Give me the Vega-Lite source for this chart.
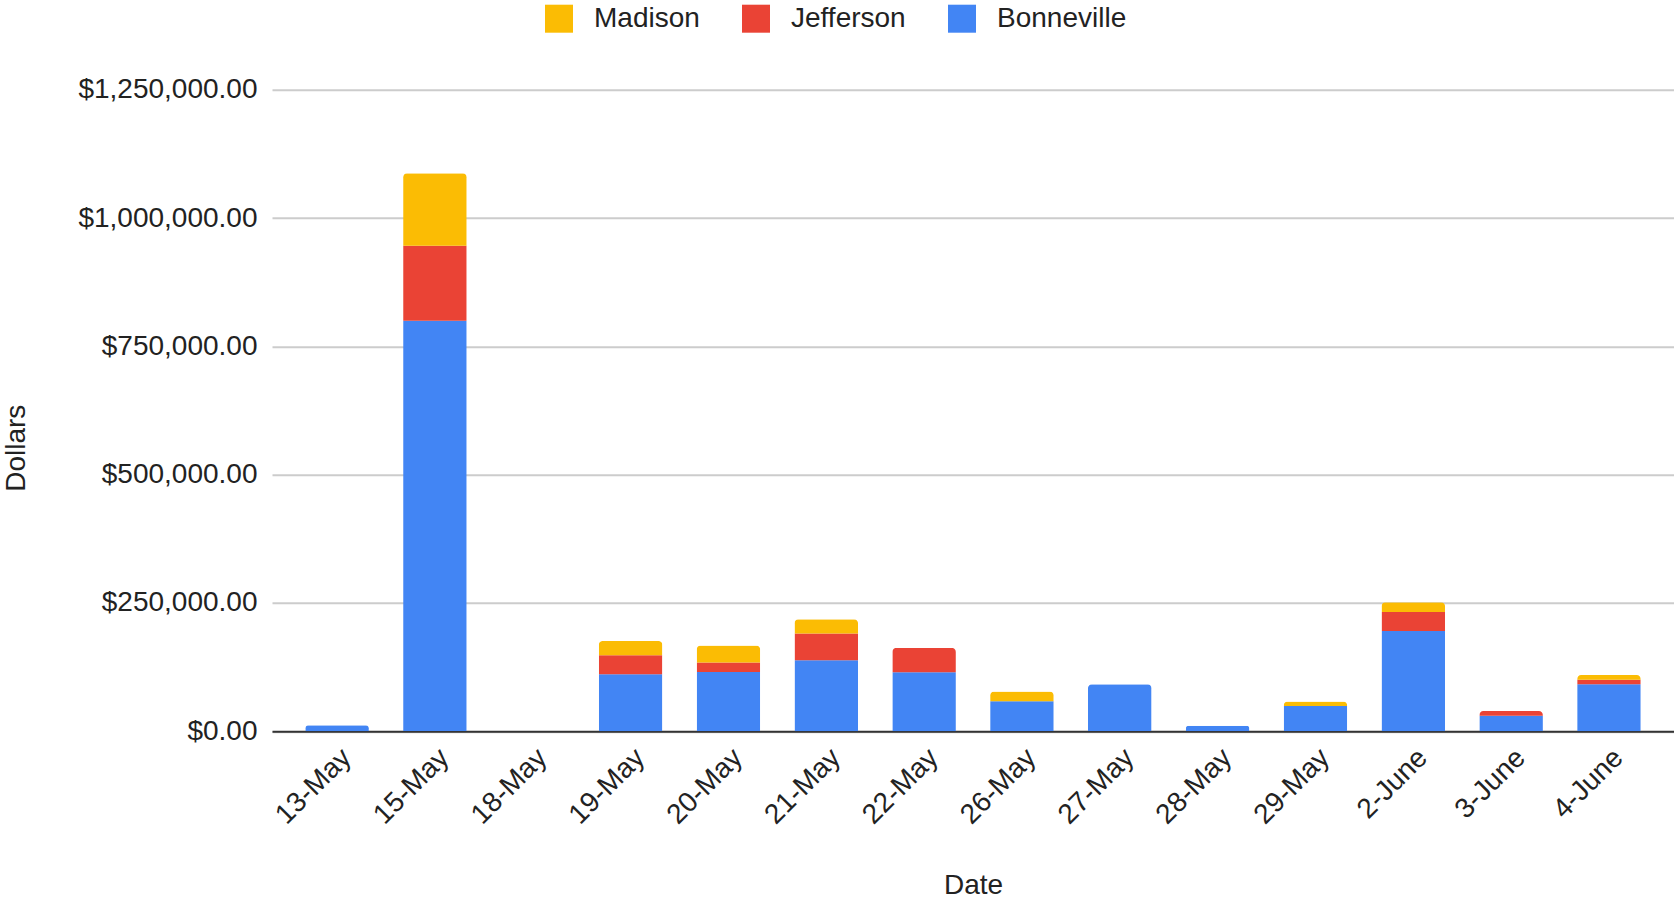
{
  "$schema": "https://vega.github.io/schema/vega-lite/v6.json",
  "autosize": "none",
  "width": 1402,
  "height": 641.6,
  "padding": {"left": 272, "top": 89.7, "right": 0, "bottom": 168.7},
  "background": "white",
  "config": {
    "font": "Liberation Sans",
    "view": {"stroke": null},
    "axis": {"labelColor": "#222222", "titleColor": "#222222", "titleFontWeight": "normal", "labelFontSize": 28, "titleFontSize": 28, "labelFont": "Liberation Sans", "titleFont": "Liberation Sans"}
  },
  "data": {
    "values": [
      {"date": "13-May", "county": "Bonneville", "dollars": 12000},
      {"date": "15-May", "county": "Bonneville", "dollars": 800000},
      {"date": "15-May", "county": "Jefferson", "dollars": 146000},
      {"date": "15-May", "county": "Madison", "dollars": 141000},
      {"date": "18-May", "county": "Bonneville", "dollars": 0},
      {"date": "19-May", "county": "Bonneville", "dollars": 111000},
      {"date": "19-May", "county": "Jefferson", "dollars": 37000},
      {"date": "19-May", "county": "Madison", "dollars": 28000},
      {"date": "20-May", "county": "Bonneville", "dollars": 115500},
      {"date": "20-May", "county": "Jefferson", "dollars": 18500},
      {"date": "20-May", "county": "Madison", "dollars": 33000},
      {"date": "21-May", "county": "Bonneville", "dollars": 138500},
      {"date": "21-May", "county": "Jefferson", "dollars": 52000},
      {"date": "21-May", "county": "Madison", "dollars": 28000},
      {"date": "22-May", "county": "Bonneville", "dollars": 115000},
      {"date": "22-May", "county": "Jefferson", "dollars": 47500},
      {"date": "26-May", "county": "Bonneville", "dollars": 58500},
      {"date": "26-May", "county": "Madison", "dollars": 19000},
      {"date": "27-May", "county": "Bonneville", "dollars": 91500},
      {"date": "28-May", "county": "Bonneville", "dollars": 11000},
      {"date": "29-May", "county": "Bonneville", "dollars": 49500},
      {"date": "29-May", "county": "Madison", "dollars": 8500},
      {"date": "2-June", "county": "Bonneville", "dollars": 195500},
      {"date": "2-June", "county": "Jefferson", "dollars": 37000},
      {"date": "2-June", "county": "Madison", "dollars": 19000},
      {"date": "3-June", "county": "Bonneville", "dollars": 30500},
      {"date": "3-June", "county": "Jefferson", "dollars": 9000},
      {"date": "4-June", "county": "Bonneville", "dollars": 91500},
      {"date": "4-June", "county": "Jefferson", "dollars": 9000},
      {"date": "4-June", "county": "Madison", "dollars": 9000}
    ]
  },
  "mark": {"type": "bar", "cornerRadiusEnd": 4},
  "encoding": {
    "x": {
      "field": "date",
      "type": "nominal",
      "sort": null,
      "scale": {"paddingInner": 0.35, "paddingOuter": 0.34},
      "axis": {
        "title": "Date",
        "labelAngle": -45,
        "labelPadding": 12,
        "ticks": false,
        "domainColor": "#333333",
        "domainWidth": 2,
        "titleY": 154,
        "titleBaseline": "middle"
      }
    },
    "y": {
      "field": "dollars",
      "type": "quantitative",
      "stack": "zero",
      "scale": {"domain": [0, 1250000], "nice": false},
      "axis": {
        "title": "Dollars",
        "values": [0, 250000, 500000, 750000, 1000000, 1250000],
        "format": "$,.2f",
        "ticks": false,
        "domain": false,
        "labelPadding": 15,
        "gridColor": "#cccccc",
        "gridWidth": 2,
        "titleX": -256,
        "titleY": 358,
        "titleBaseline": "middle",
        "titleAlign": "center"
      }
    },
    "color": {
      "field": "county",
      "type": "nominal",
      "scale": {"domain": ["Madison", "Jefferson", "Bonneville"], "range": ["#FBBC04", "#EA4335", "#4285F4"]},
      "legend": {
        "title": null,
        "orient": "none",
        "direction": "horizontal",
        "legendX": 273,
        "legendY": -85,
        "symbolType": "square",
        "symbolSize": 784,
        "symbolStrokeWidth": 0,
        "labelFontSize": 28,
        "labelColor": "#222222",
        "labelOffset": 21,
        "columnPadding": 42
      }
    },
    "order": {"field": "county", "sort": "ascending"}
  }
}
